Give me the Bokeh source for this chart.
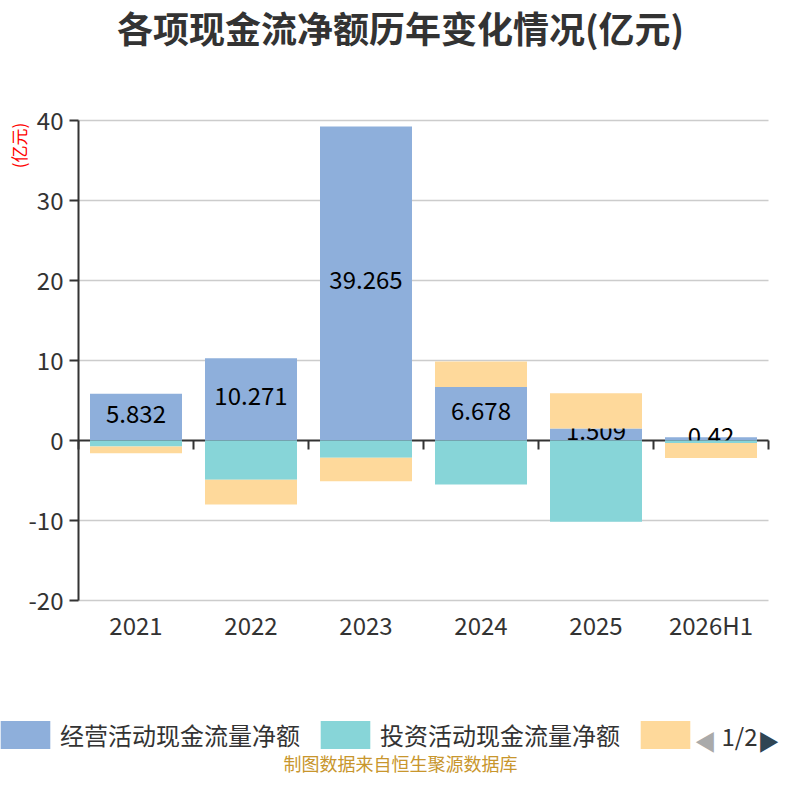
from bokeh.plotting import figure
from bokeh.models import LinearAxis, FixedTicker, Label, Legend, LegendItem, ColumnDataSource
from bokeh.core.properties import value
from bokeh.embed import file_html
from bokeh.resources import INLINE

categories = ["2021", "2022", "2023", "2024", "2025", "2026H1"]
operating = [5.832, 10.271, 39.265, 6.678, 1.509, 0.42]
investing = [-0.75, -4.9, -2.17, -5.5, -10.17, -0.3]
financing = [-0.85, -3.1, -2.93, 3.2, 4.4, -1.9]
series_names = ["经营活动现金流量净额", "投资活动现金流量净额", "筹资活动现金流量净额"]
y_ticks = [-20, -10, 0, 10, 20, 30, 40]

FONT = "Noto Sans CJK SC"
colors = ["#8eafdb", "#87d5d8", "#fed99b"]
n = len(categories)
xs = [i + 0.5 for i in range(n)]

# canvas layout in pixels; the frame fills the whole canvas so that
# title, legend and footer can be drawn anywhere on it
W, H = 784, 784
left, right, top, bottom = 78, 768, 120, 600
ymin, ymax = y_ticks[0], y_ticks[-1]
kx = (right - left) / n
ky = (bottom - top) / (ymax - ymin)
x_range = (-left / kx, n + (W - right) / kx)
y_range = (ymin - (H - bottom) / ky, ymax + top / ky)

# positive and negative values stack separately (like echarts)
pos_base = [0.0] * n
neg_base = [0.0] * n
stacks = []
for vals in (operating, investing, financing):
    bottoms, tops = [], []
    for i, v in enumerate(vals):
        if v >= 0:
            b = pos_base[i]
            pos_base[i] += v
        else:
            b = neg_base[i]
            neg_base[i] += v
        bottoms.append(b)
        tops.append(b + v)
    stacks.append((bottoms, tops))

p = figure(width=W, height=H, x_range=x_range, y_range=y_range,
           output_backend="svg", toolbar_location=None, title=None,
           x_axis_location=None, y_axis_location=None, min_border=0)
p.outline_line_color = None
p.grid.visible = False

# horizontal grid lines across the plot area
grid_y = [t for t in y_ticks if t != 0]
p.segment(x0=[0] * len(grid_y), x1=[n] * len(grid_y), y0=grid_y, y1=grid_y,
          line_color="#cccccc", line_width=1.5)

renderers = []
b, t = stacks[0]
renderers.append(p.vbar(x=xs, bottom=b, top=t, width=0.8, color=colors[0], line_color=None))

lab = ColumnDataSource(dict(x=xs, y=[v / 2 for v in operating], text=[str(v) for v in operating]))
p.text(x="x", y="y", text="text", source=lab, text_align="center", text_baseline="middle",
       y_offset=-3, text_font=value(FONT), text_font_size="24px", text_color="#000000")

for k in (1, 2):
    b, t = stacks[k]
    renderers.append(p.vbar(x=xs, bottom=b, top=t, width=0.8, color=colors[k], line_color=None))

# category labels under the plot area
cat_axis = LinearAxis(fixed_location=ymin, bounds=(0, n), ticker=FixedTicker(ticks=xs),
                      major_label_overrides={x: c for x, c in zip(xs, categories)},
                      axis_line_color=None, major_tick_line_color=None, minor_tick_line_color=None,
                      major_label_standoff=0, major_label_text_font=FONT,
                      major_label_text_font_size="24px", major_label_text_color="#333333")
p.add_layout(cat_axis, "below")

# axis line through zero with ticks between categories
zero_axis = LinearAxis(fixed_location=0, bounds=(0, n), ticker=FixedTicker(ticks=list(range(n + 1))),
                       major_label_text_color=None, axis_line_color="#333333",
                       axis_line_width=2, major_tick_line_color="#333333", major_tick_line_width=2,
                       major_tick_in=0, major_tick_out=9, minor_tick_line_color=None, level="underlay")
p.add_layout(zero_axis, "below")

ya = LinearAxis(fixed_location=0, bounds=(ymin, ymax), ticker=FixedTicker(ticks=y_ticks),
                major_label_overrides={t: str(t) for t in y_ticks},
                axis_line_color="#333333", axis_line_width=2,
                major_tick_line_color="#333333", major_tick_line_width=2,
                major_tick_in=0, major_tick_out=9, minor_tick_line_color=None,
                major_label_standoff=6, major_label_text_font=FONT,
                major_label_text_font_size="24px", major_label_text_color="#333333")
p.add_layout(ya, "left")

# legend glyphs are drawn with a 10% inset, so the boxes are sized up
legend = Legend(items=[LegendItem(label=series_names[0], renderers=[renderers[0]]),
                       LegendItem(label=series_names[1], renderers=[renderers[1]]),
                       LegendItem(label=" ", renderers=[renderers[2]])],
                orientation="horizontal", location=(-6, H - 752),
                glyph_width=62, glyph_height=35, label_standoff=4, spacing=14,
                padding=0, margin=0, border_line_color=None, background_fill_alpha=0,
                label_text_font=FONT, label_text_font_size="24px", label_text_color="#333333")
p.add_layout(legend)

def note(text, x, y, size, color, bold=False, angle=0.0):
    # x, y given as pixels from the top-left corner of the canvas
    p.add_layout(Label(x=x, y=H - y, x_units="screen", y_units="screen", text=text,
                       text_font=FONT, text_font_size=size, text_color=color,
                       text_font_style="bold" if bold else "normal",
                       text_align="center", text_baseline="middle", angle=angle))

note("各项现金流净额历年变化情况(亿元)", 400, 26, "36px", "#333333", bold=True)
note("(亿元)", 18, 145, "17px", "#ff0000", angle=1.5708)
note("制图数据来自恒生聚源数据库", 400, 762, "18px", "#c8962d")
note("◀", 705, 739, "22px", "#aaaaaa")
note("1/2", 739, 735, "24px", "#333333")
note("▶", 768, 739, "22px", "#2f4554")

open("out.html", "w").write(file_html(p, INLINE))
